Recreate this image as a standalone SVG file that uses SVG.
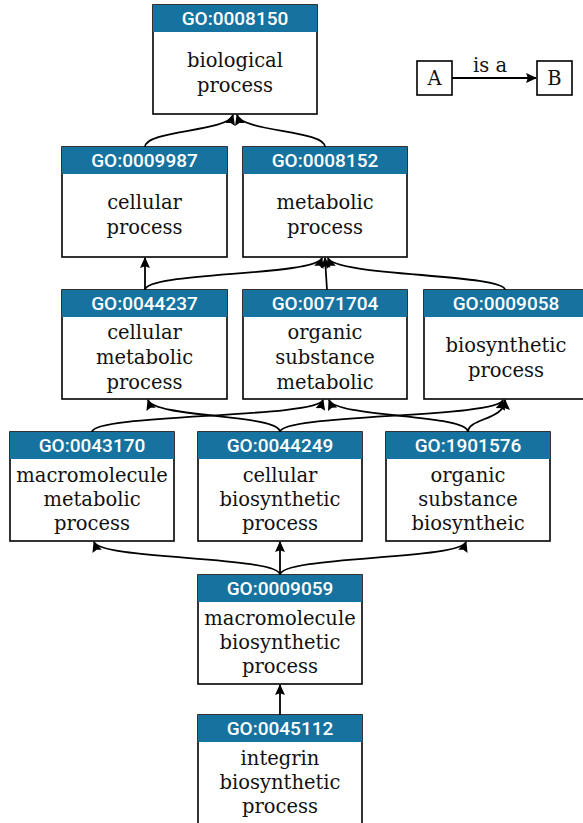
<svg xmlns="http://www.w3.org/2000/svg" width="583" height="823" viewBox="0 0 583 823">
<defs>
<marker id="ah" viewBox="0 0 10 10" refX="9" refY="5" markerWidth="11" markerHeight="11" markerUnits="userSpaceOnUse" orient="auto">
<path d="M0,0.5 L10,5 L0,9.5 L1.5,5 Z" fill="#000"/>
</marker>
</defs>
<style>
.box{fill:#fff;stroke:#000;stroke-width:1.6}
.hd{fill:#16729e}
.id{font-family:Roboto,"Liberation Sans",sans-serif;font-weight:500;font-size:19px;fill:#fff;text-anchor:middle}
.lb{font-family:"DejaVu Serif","Liberation Serif",serif;font-size:19.5px;fill:#111;text-anchor:middle}
.e{fill:none;stroke:#000;stroke-width:1.8;marker-end:url(#ah)}
</style>
<rect width="583" height="823" fill="#fff"/>
<g id="connectors">
<path class="e" d="M145,147 C145,130 228,132 233,115"/>
<path class="e" d="M325,147 C325,130 242,132 237,115"/>
<path class="e" d="M145,290 L145,258"/>
<path class="e" d="M145,290 C145,272 316,276 322,258"/>
<path class="e" d="M327,290 L325,258"/>
<path class="e" d="M505,290 C505,274 334,276 328,258"/>
<path class="e" d="M92,432 C92,414 318,418 323,400"/>
<path class="e" d="M280,432 C280,414 154,418 148,400"/>
<path class="e" d="M280,432 C280,414 498,418 503,400"/>
<path class="e" d="M468,432 C468,414 336,418 329,400"/>
<path class="e" d="M468,432 C468,418 505,420 505,400"/>
<path class="e" d="M280,575 C280,556 100,560 94,542"/>
<path class="e" d="M280,575 L280,542"/>
<path class="e" d="M280,575 C280,556 460,560 466,542"/>
<path class="e" d="M280,715 L280,685"/>
<path class="e" d="M452,78 L536,78"/>
</g>
<g id="legend">
<rect class="box" x="417" y="61" width="35" height="34"/>
<text class="lb" x="434.5" y="85">A</text>
<rect class="box" x="537" y="61" width="35" height="34"/>
<text class="lb" x="554.5" y="85">B</text>
<text class="lb" x="490" y="72">is a</text>
</g>
<g id="n0008150">
<rect class="box" x="153" y="5" width="164" height="109"/>
<rect class="hd" x="153" y="5" width="164" height="27"/>
<text class="id" x="235" y="25">GO:0008150</text>
<text class="lb" x="235" y="67">biological</text>
<text class="lb" x="235" y="92">process</text>
</g>
<g id="n0009987">
<rect class="box" x="62" y="147" width="165" height="110"/>
<rect class="hd" x="62" y="147" width="165" height="27"/>
<text class="id" x="144.5" y="167">GO:0009987</text>
<text class="lb" x="144.5" y="209">cellular</text>
<text class="lb" x="144.5" y="234">process</text>
</g>
<g id="n0008152">
<rect class="box" x="243" y="147" width="164" height="110"/>
<rect class="hd" x="243" y="147" width="164" height="27"/>
<text class="id" x="325" y="167">GO:0008152</text>
<text class="lb" x="325" y="209">metabolic</text>
<text class="lb" x="325" y="234">process</text>
</g>
<g id="n0044237">
<rect class="box" x="62" y="290" width="165" height="109"/>
<rect class="hd" x="62" y="290" width="165" height="27"/>
<text class="id" x="144.5" y="310">GO:0044237</text>
<text class="lb" x="144.5" y="339">cellular</text>
<text class="lb" x="144.5" y="364">metabolic</text>
<text class="lb" x="144.5" y="389">process</text>
</g>
<g id="n0071704">
<rect class="box" x="243" y="290" width="164" height="109"/>
<rect class="hd" x="243" y="290" width="164" height="27"/>
<text class="id" x="325" y="310">GO:0071704</text>
<text class="lb" x="325" y="339">organic</text>
<text class="lb" x="325" y="364">substance</text>
<text class="lb" x="325" y="389">metabolic</text>
</g>
<g id="n0009058">
<rect class="box" x="424" y="290" width="164" height="109"/>
<rect class="hd" x="424" y="290" width="164" height="27"/>
<text class="id" x="506" y="310">GO:0009058</text>
<text class="lb" x="506" y="352">biosynthetic</text>
<text class="lb" x="506" y="377">process</text>
</g>
<g id="n0043170">
<rect class="box" x="10" y="432" width="164" height="109"/>
<rect class="hd" x="10" y="432" width="164" height="27"/>
<text class="id" x="92" y="452">GO:0043170</text>
<text class="lb" x="92" y="482">macromolecule</text>
<text class="lb" x="92" y="506">metabolic</text>
<text class="lb" x="92" y="530">process</text>
</g>
<g id="n0044249">
<rect class="box" x="198" y="432" width="164" height="109"/>
<rect class="hd" x="198" y="432" width="164" height="27"/>
<text class="id" x="280" y="452">GO:0044249</text>
<text class="lb" x="280" y="482">cellular</text>
<text class="lb" x="280" y="506">biosynthetic</text>
<text class="lb" x="280" y="530">process</text>
</g>
<g id="n1901576">
<rect class="box" x="386" y="432" width="164" height="109"/>
<rect class="hd" x="386" y="432" width="164" height="27"/>
<text class="id" x="468" y="452">GO:1901576</text>
<text class="lb" x="468" y="482">organic</text>
<text class="lb" x="468" y="506">substance</text>
<text class="lb" x="468" y="530">biosyntheic</text>
</g>
<g id="n0009059">
<rect class="box" x="198" y="575" width="164" height="109"/>
<rect class="hd" x="198" y="575" width="164" height="27"/>
<text class="id" x="280" y="595">GO:0009059</text>
<text class="lb" x="280" y="625">macromolecule</text>
<text class="lb" x="280" y="649">biosynthetic</text>
<text class="lb" x="280" y="673">process</text>
</g>
<g id="n0045112">
<rect class="box" x="198" y="715" width="164" height="115"/>
<rect class="hd" x="198" y="715" width="164" height="27"/>
<text class="id" x="280" y="735">GO:0045112</text>
<text class="lb" x="280" y="765">integrin</text>
<text class="lb" x="280" y="789">biosynthetic</text>
<text class="lb" x="280" y="813">process</text>
</g>
</svg>
